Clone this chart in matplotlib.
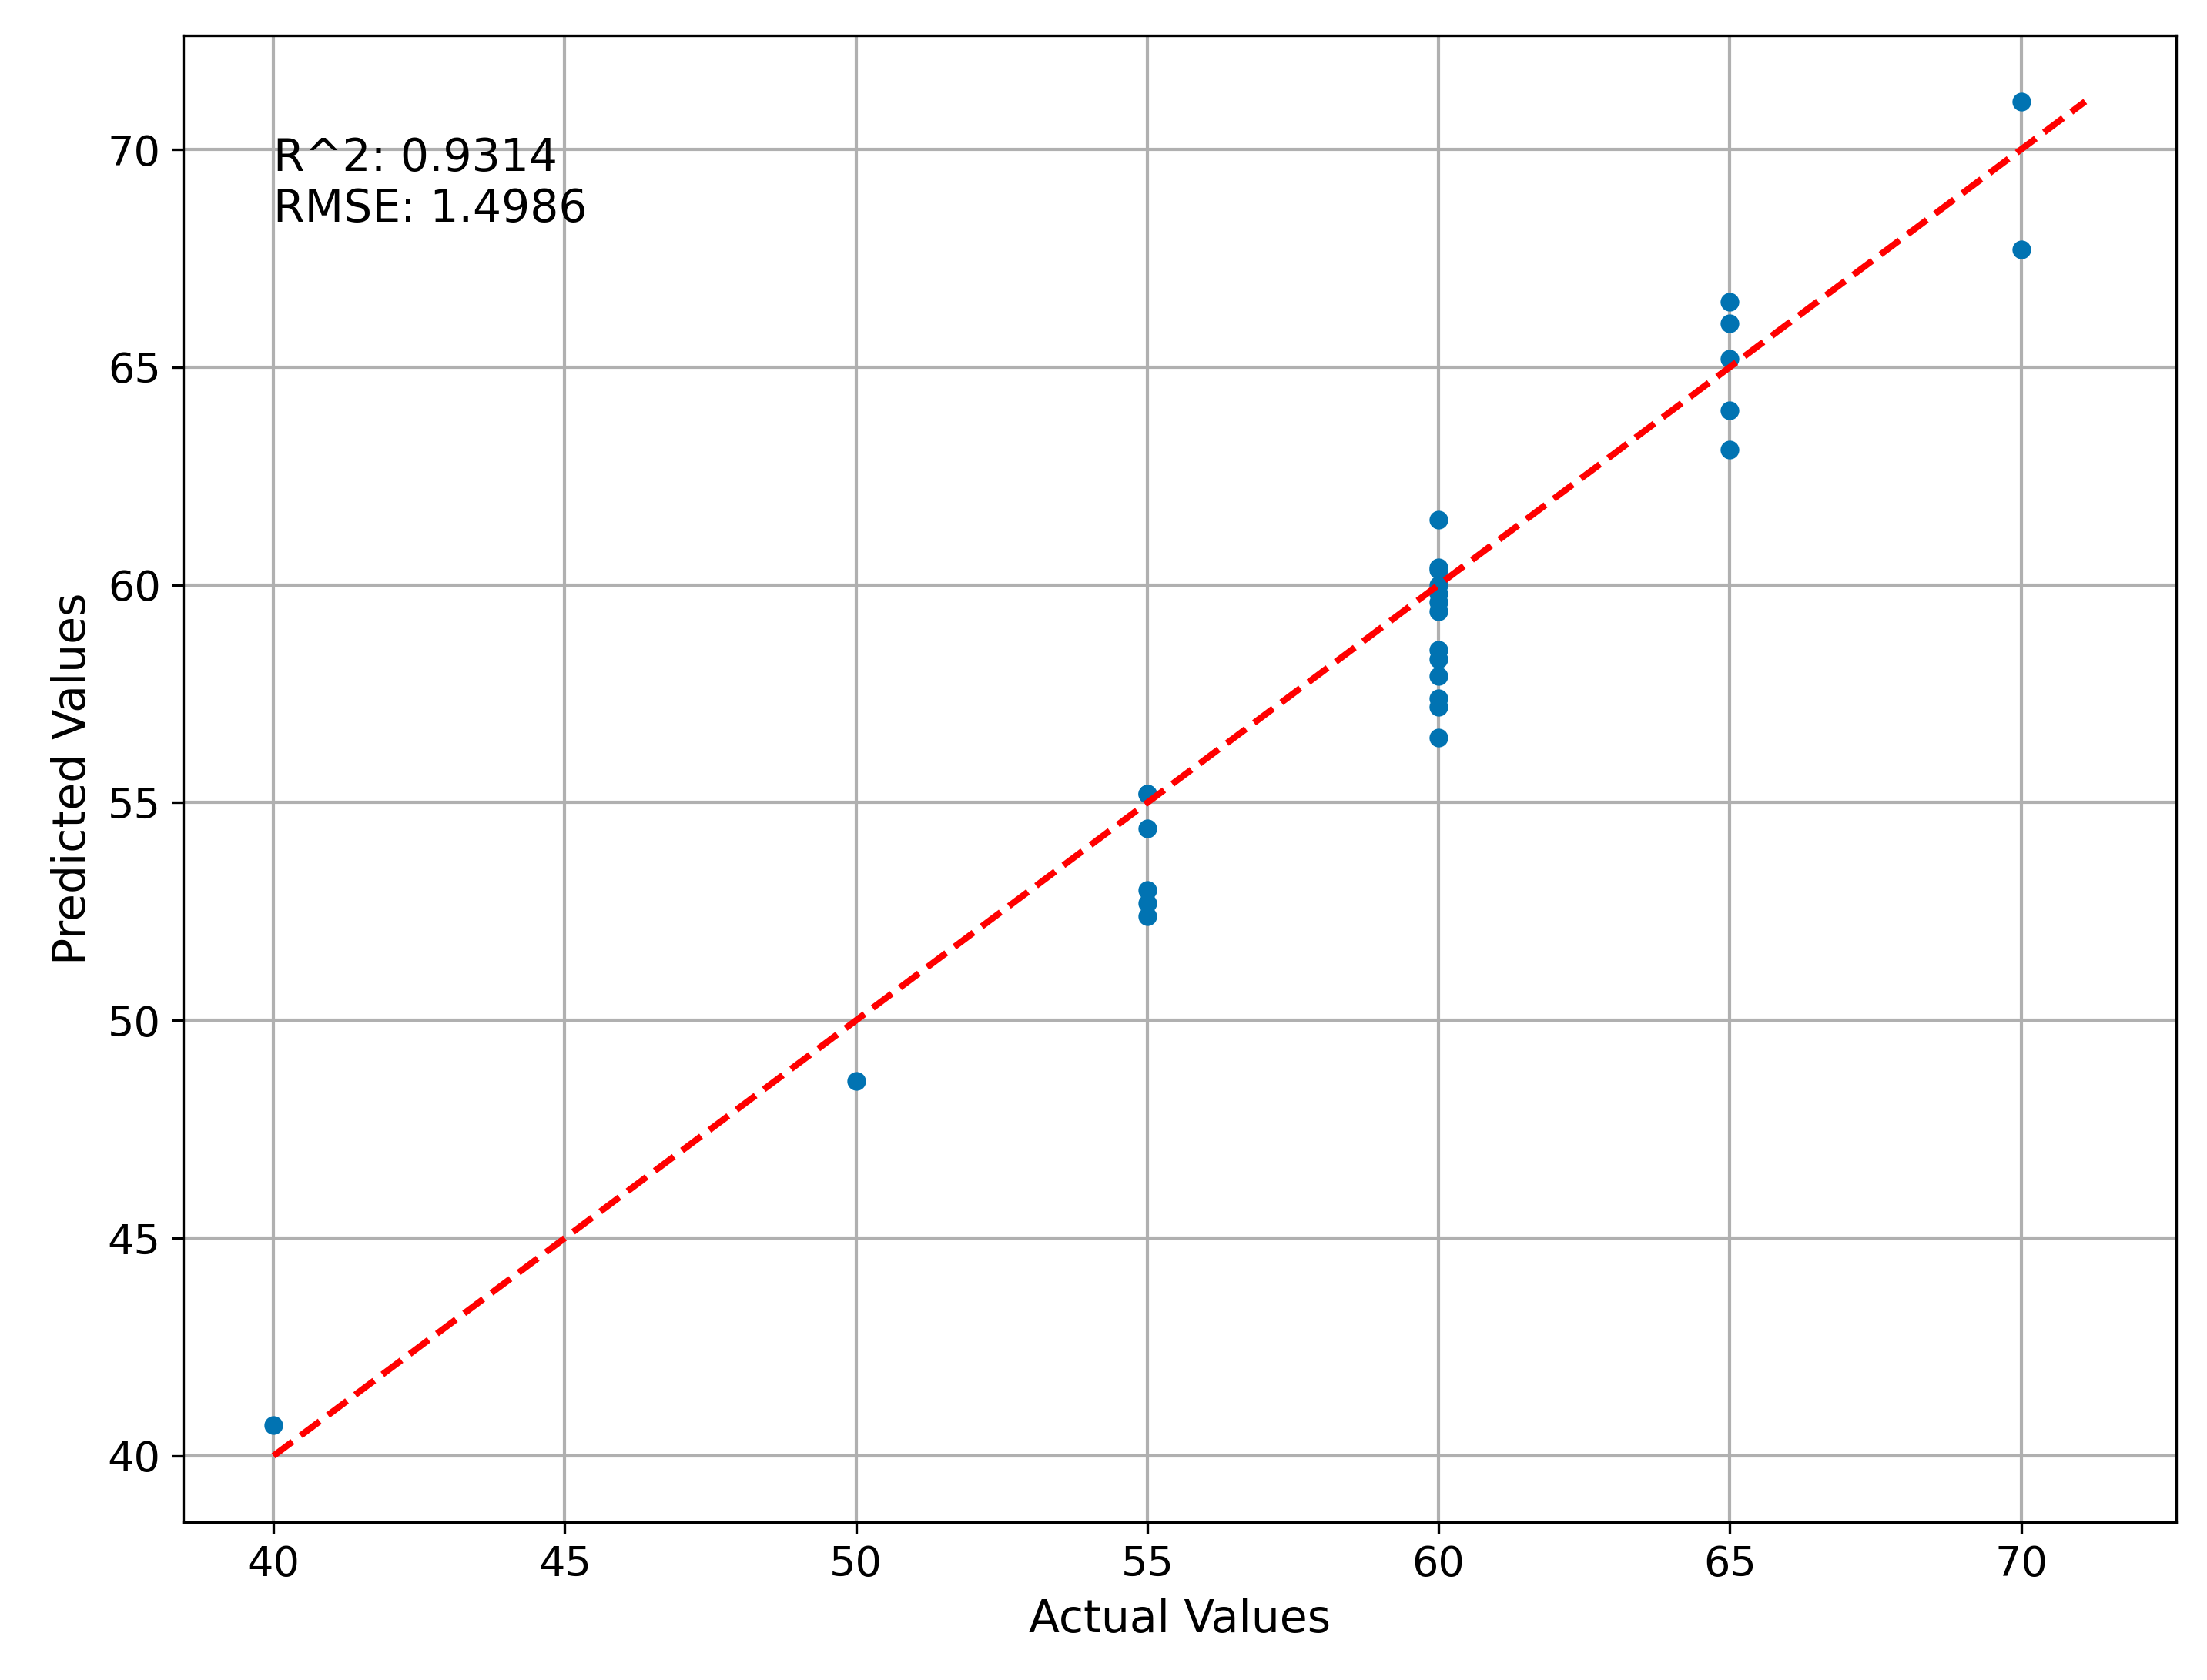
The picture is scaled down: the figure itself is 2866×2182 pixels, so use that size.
import matplotlib
matplotlib.use("Agg")
import matplotlib.pyplot as plt
import numpy as np

actual = [40, 50,
          55, 55, 55, 55, 55, 55,
          60, 60, 60, 60, 60, 60, 60, 60, 60, 60, 60, 60, 60,
          65, 65, 65, 65, 65,
          70, 70]
predicted = [40.7, 48.6,
             55.2, 55.2, 54.4, 53.0, 52.7, 52.4,
             61.5, 60.4, 60.35, 60.0, 59.8, 59.6, 59.4, 58.5, 58.3, 57.9, 57.4, 57.2, 56.5,
             66.5, 66.0, 65.2, 64.0, 63.1,
             71.1, 67.7]
r2_text = "R^2: 0.9314\nRMSE: 1.4986"

fig = plt.figure(figsize=(2866/300, 2182/300), dpi=300)
ax = fig.add_axes([0.083, 0.094, 0.903, 0.885])
ax.scatter(actual, predicted, s=34, color='#0173b2', zorder=3, linewidths=0)
lo = min(min(actual), min(predicted)); hi = max(max(actual), max(predicted))
ax.plot([lo, hi], [lo, hi], 'r--', lw=2, zorder=4)
ax.grid(True, color='#b0b0b0', lw=1)
ax.set_axisbelow(True)
ax.set_xlim(38.45, 72.66)
ax.set_ylim(38.48, 72.62)
ax.set_xticks(range(40, 71, 5)); ax.set_yticks(range(40, 71, 5))
ax.tick_params(labelsize=13)
ax.set_xlabel("Actual Values", fontsize=14)
ax.set_ylabel("Predicted Values", fontsize=14)
ax.text(40, 70.3, r2_text, fontsize=14, va='top', ha='left')
fig.savefig("out.png", dpi=300)
